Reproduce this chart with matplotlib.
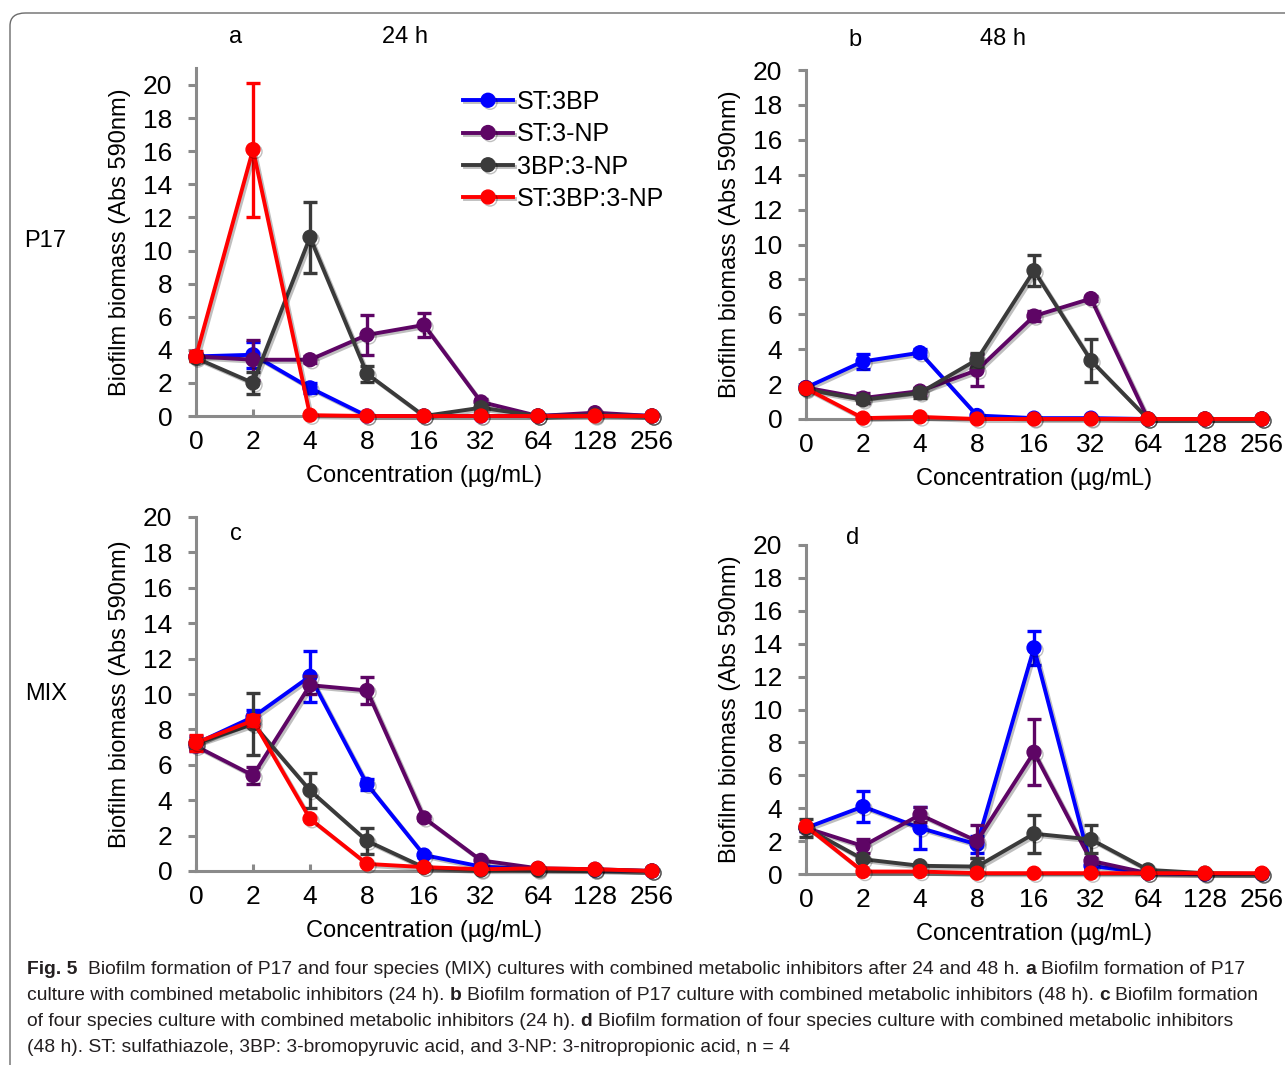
import numpy as np
import matplotlib
matplotlib.use("Agg")
import matplotlib.pyplot as plt
import matplotlib.patheffects as pe
from matplotlib.patches import FancyBboxPatch

plt.rcParams['font.family'] = ['Liberation Sans', 'DejaVu Sans']

# Data
conc = ['0', '2', '4', '8', '16', '32', '64', '128', '256']
series = ['ST:3BP', 'ST:3-NP', '3BP:3-NP', 'ST:3BP:3-NP']
colors = ['#0000FF', '#5E0565', '#3A3A3A', '#FF0000']

# a: P17, 24 h
a_st3bp = [3.6, 3.7, 1.7, 0.0, 0.0, 0.0, 0.0, 0.1, 0.0]
a_st3np = [3.6, 3.4, 3.4, 4.9, 5.5, 0.85, 0.0, 0.2, 0.0]
a_3bp3np = [3.5, 2.0, 10.8, 2.55, 0.0, 0.5, 0.0, 0.05, 0.0]
a_all = [3.6, 16.1, 0.05, 0.0, 0.0, 0.0, 0.0, 0.0, 0.0]
a_st3bp_err = [0.2, 0.8, 0.3, 0, 0, 0, 0, 0, 0]
a_st3np_err = [0, 1.2, 0.2, 1.2, 0.7, 0.2, 0, 0.1, 0]
a_3bp3np_err = [0.2, 0.65, 2.15, 0.5, 0, 0.2, 0, 0, 0]
a_all_err = [0.3, 4.05, 0, 0, 0, 0, 0, 0, 0]

# b: P17, 48 h
b_st3bp = [1.8, 3.3, 3.8, 0.2, 0.05, 0.05, 0.0, 0.0, 0.0]
b_st3np = [1.8, 1.2, 1.6, 2.8, 5.9, 6.9, 0.0, 0.0, 0.0]
b_3bp3np = [1.7, 1.1, 1.5, 3.4, 8.5, 3.35, 0.0, 0.0, 0.0]
b_all = [1.75, 0.05, 0.12, 0.0, 0.0, 0.0, 0.0, 0.0, 0.0]
b_st3bp_err = [0, 0.45, 0.2, 0, 0, 0, 0, 0, 0]
b_st3np_err = [0, 0.3, 0.2, 0.9, 0.3, 0.15, 0, 0, 0]
b_3bp3np_err = [0.1, 0.2, 0.3, 0.4, 0.9, 1.25, 0, 0, 0]
b_all_err = [0, 0, 0, 0, 0, 0, 0, 0, 0]

# c: MIX, 24 h
c_st3bp = [7.2, 8.7, 11.0, 4.9, 0.9, 0.25, 0.1, 0.05, 0.0]
c_st3np = [7.05, 5.4, 10.5, 10.2, 3.0, 0.6, 0.15, 0.1, 0.0]
c_3bp3np = [7.2, 8.3, 4.55, 1.7, 0.2, 0.05, 0.05, 0.05, 0.0]
c_all = [7.25, 8.5, 2.95, 0.4, 0.22, 0.1, 0.15, 0.1, 0.0]
c_st3bp_err = [0.4, 0.4, 1.45, 0.3, 0.1, 0, 0, 0, 0]
c_st3np_err = [0.2, 0.5, 0.5, 0.75, 0.1, 0.1, 0, 0, 0]
c_3bp3np_err = [0.3, 1.75, 1.0, 0.75, 0, 0, 0, 0, 0]
c_all_err = [0.45, 0.3, 0, 0, 0, 0, 0, 0, 0]

# d: MIX, 48 h
d_st3bp = [2.8, 4.1, 2.8, 1.8, 13.75, 0.5, 0.05, 0.0, 0.0]
d_st3np = [2.8, 1.7, 3.6, 2.0, 7.4, 0.8, 0.05, 0.0, 0.0]
d_3bp3np = [2.8, 0.9, 0.5, 0.45, 2.45, 2.1, 0.25, 0.05, 0.0]
d_all = [2.9, 0.15, 0.15, 0.05, 0.05, 0.05, 0.05, 0.05, 0.05]
d_st3bp_err = [0.2, 0.95, 1.3, 0.5, 1.05, 0.2, 0, 0, 0]
d_st3np_err = [0.2, 0.45, 0.45, 1.0, 2.0, 0.2, 0, 0, 0]
d_3bp3np_err = [0.55, 0.1, 0, 0.5, 1.15, 0.85, 0, 0, 0]
d_all_err = [0, 0, 0, 0, 0, 0, 0, 0, 0]

panels = [
    ([a_st3bp, a_st3np, a_3bp3np, a_all], [a_st3bp_err, a_st3np_err, a_3bp3np_err, a_all_err]),
    ([b_st3bp, b_st3np, b_3bp3np, b_all], [b_st3bp_err, b_st3np_err, b_3bp3np_err, b_all_err]),
    ([c_st3bp, c_st3np, c_3bp3np, c_all], [c_st3bp_err, c_st3np_err, c_3bp3np_err, c_all_err]),
    ([d_st3bp, d_st3np, d_3bp3np, d_all], [d_st3bp_err, d_st3np_err, d_3bp3np_err, d_all_err]),
]

W, H = 1285, 1065
fig = plt.figure(figsize=(W / 100, H / 100), dpi=100)

# rounded frame around the figure (right and bottom edges run off the page)
frame = FancyBboxPatch((10 / W, -20 / H), 1.1, (H - 13 + 20) / H,
                       boxstyle="round,pad=0,rounding_size=0.012",
                       transform=fig.transFigure, fill=False,
                       edgecolor='#6b6b6b', linewidth=1.0)
fig.patches.append(frame)

# pixel layout of each panel: x of cat 0, x of cat 8, y of 0, y of 20, ylim top
layout = [
    (196, 652, 416, 85, 21),
    (806, 1262, 419, 70, 20),
    (196, 652, 871, 517, 20),
    (806, 1262, 874, 545, 20),
]

gray = '#8a8a8a'
x = np.arange(len(conc))
axes = []
for (vals, errs), (x0, x8, y0, y20, ylim_top) in zip(panels, layout):
    ux = (x8 - x0) / 8.0
    uy = (y0 - y20) / 20.0
    ax = fig.add_axes([x0 / W, (H - y0) / H, 8 * ux / W, ylim_top * uy / H])
    ax.set_xlim(0, 8)
    ax.set_ylim(0, ylim_top)
    ax.patch.set_alpha(0)
    for k in range(4):
        v = np.array(vals[k])
        e = np.array(errs[k])
        m = e > 0
        ax.errorbar(x[m], v[m], yerr=e[m], fmt='none', ecolor=colors[k],
                    elinewidth=2.4, capsize=5, capthick=2.4, zorder=2 + k,
                    clip_on=False)
        ax.plot(x, v, '-o', color=colors[k], lw=2.8, ms=10, label=series[k],
                zorder=3 + k, clip_on=False,
                path_effects=[pe.SimpleLineShadow(offset=(1.5, -1.5), alpha=0.25),
                              pe.Normal()])
    for s in ['top', 'right']:
        ax.spines[s].set_visible(False)
    for s in ['left', 'bottom']:
        ax.spines[s].set_color(gray)
        ax.spines[s].set_linewidth(2.2)
    ax.set_xticks(x)
    ax.set_xticklabels(conc)
    ax.set_yticks(np.arange(0, 21, 2))
    ax.tick_params(axis='y', direction='out', length=6, width=2.2, color=gray,
                   labelsize=19, pad=11)
    ax.tick_params(axis='x', direction='in', length=5, width=2.2, color=gray,
                   labelsize=19, pad=10)
    ax.set_xlabel('Concentration (µg/mL)', fontsize=17, labelpad=8)
    ax.set_ylabel('Biofilm biomass (Abs 590nm)', fontsize=17, labelpad=9)
    axes.append(ax)

axes[0].legend(loc='upper left', bbox_to_anchor=(463 / W, 1 - 90 / H),
               bbox_transform=fig.transFigure, frameon=False,
               fontsize=18, handlelength=2.0, handletextpad=0.15,
               labelspacing=0.33, borderaxespad=0, borderpad=0)

# panel letters and labels
fig.text(236 / W, 1 - 37 / H, 'a', fontsize=17, ha='center', va='center')
fig.text(405 / W, 1 - 37 / H, '24 h', fontsize=17, ha='center', va='center')
fig.text(855 / W, 1 - 40 / H, 'b', fontsize=17, ha='center', va='center')
fig.text(1003 / W, 1 - 39 / H, '48 h', fontsize=17, ha='center', va='center')
fig.text(236 / W, 1 - 534 / H, 'c', fontsize=17, ha='center', va='center')
fig.text(853 / W, 1 - 538 / H, 'd', fontsize=17, ha='center', va='center')
fig.text(45 / W, 1 - 241 / H, 'P17', fontsize=17, ha='center', va='center')
fig.text(46 / W, 1 - 694 / H, 'MIX', fontsize=17, ha='center', va='center')

# caption with bold run-ins
cap_color = '#231F20'
cap_size = 13.85
caption = [
    [("Fig. 5", True), ("Biofilm formation of P17 and four species (MIX) cultures with combined metabolic inhibitors after 24 and 48 h.", False),
     ("a", True), ("Biofilm formation of P17", False)],
    [("culture with combined metabolic inhibitors (24 h).", False), ("b", True),
     ("Biofilm formation of P17 culture with combined metabolic inhibitors (48 h).", False),
     ("c", True), ("Biofilm formation", False)],
    [("of four species culture with combined metabolic inhibitors (24 h).", False), ("d", True),
     ("Biofilm formation of four species culture with combined metabolic inhibitors", False)],
    [("(48 h). ST: sulfathiazole, 3BP: 3-bromopyruvic acid, and 3-NP: 3-nitropropionic acid, n = 4", False)],
]
caption_y = [969, 995, 1021, 1048]

renderer = fig.canvas.get_renderer()
tmp = fig.text(0, 0, 'a a', fontsize=cap_size)
w2 = tmp.get_window_extent(renderer).width
tmp.set_text('aa')
space_px = w2 - tmp.get_window_extent(renderer).width
tmp.remove()

for runs, yy in zip(caption, caption_y):
    xx = 27.0
    for j, (txt, bold) in enumerate(runs):
        t = fig.text(xx / W, 1 - yy / H, txt, fontsize=cap_size, color=cap_color,
                     fontweight='bold' if bold else 'normal', va='center', ha='left')
        xx += t.get_window_extent(renderer).width + space_px
        if j == 0 and txt == "Fig. 5":
            xx += space_px

fig.savefig('out.png', dpi=100)
